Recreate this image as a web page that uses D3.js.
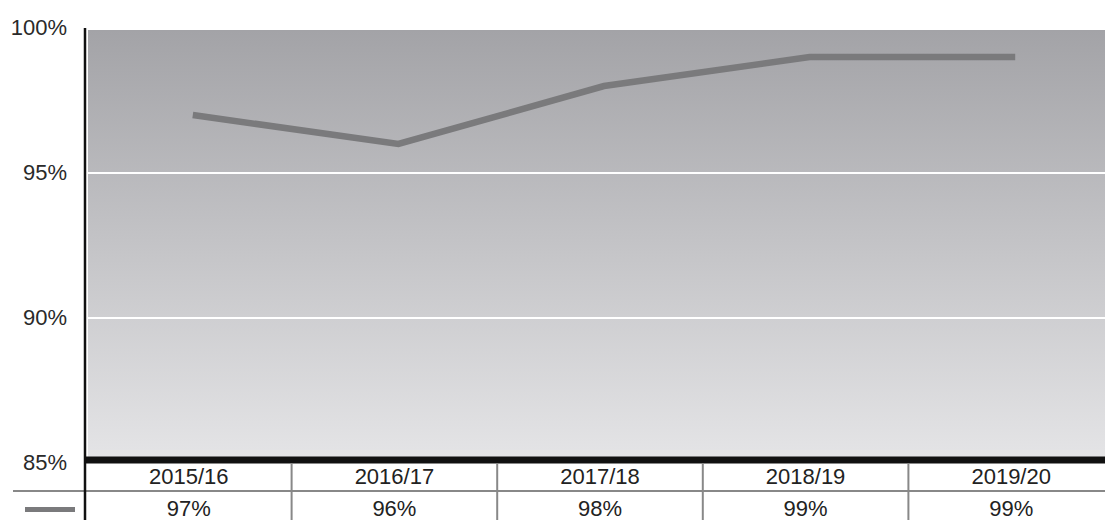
<!DOCTYPE html>
<html>
<head>
<meta charset="utf-8">
<style>
body { margin: 0; background: #fff; }
svg { font-family: "Liberation Sans", Arial, sans-serif; }
.axis text { font-size: 22px; fill: #2a2a2a; }
.cell text { font-size: 22px; fill: #222; }
.grid line { stroke: #fff; stroke-width: 2; }
.line { fill: none; stroke: #7a7a7c; stroke-width: 6.5; }
</style>
</head>
<body>
<svg width="1105" height="520"></svg>
<script src="https://cdn.jsdelivr.net/npm/d3@7"></script>
<script>
var years = ["2015/16", "2016/17", "2017/18", "2018/19", "2019/20"];
var values = [97, 96, 98, 99, 99];
var yTicks = [85, 90, 95, 100];

var svg = d3.select("svg");
var plotLeft = 86, plotRight = 1114, plotTop = 28, plotBottom = 463, svgW = 1105;

var x = d3.scaleBand().domain(years).range([plotLeft, plotRight]).padding(0);
var y = d3.scaleLinear().domain([85, 100]).range([plotBottom, plotTop]);

var defs = svg.append("defs");
var grad = defs.append("linearGradient")
  .attr("id", "bg").attr("x1", "0%").attr("x2", "0%").attr("y1", "0%").attr("y2", "100%");
grad.append("stop").attr("offset", "0%").attr("stop-color", "#a3a3a7");
grad.append("stop").attr("offset", "100%").attr("stop-color", "#e5e5e7");

// plot background
svg.append("rect")
  .attr("x", plotLeft + 2).attr("y", y(100) + 2)
  .attr("width", svgW - plotLeft - 2).attr("height", y(85) - y(100) - 2)
  .attr("fill", "url(#bg)");

// gridlines
svg.append("g").attr("class", "grid")
  .selectAll("line").data([90, 95]).enter().append("line")
  .attr("x1", plotLeft + 2).attr("x2", svgW)
  .attr("y1", function(d) { return y(d); }).attr("y2", function(d) { return y(d); });

// y labels
svg.append("g").attr("class", "axis")
  .selectAll("text").data(yTicks).enter().append("text")
  .attr("x", 67).attr("y", function(d) { return y(d); })
  .attr("dy", "0.3em")
  .attr("text-anchor", "end")
  .text(function(d) { return d + "%"; });

// line
var line = d3.line()
  .x(function(d, i) { return x(years[i]) + x.bandwidth() / 2 + 4; })
  .y(function(d) { return y(d); });

svg.append("path").datum(values).attr("class", "line").attr("d", line);

// bottom thick bar
svg.append("line")
  .attr("x1", plotLeft).attr("x2", svgW)
  .attr("y1", y(85) - 3).attr("y2", y(85) - 3)
  .attr("stroke", "#111").attr("stroke-width", 7);

// table
var row1 = 476, row2 = 508, sep = 491;
svg.append("line")
  .attr("x1", 13).attr("x2", svgW)
  .attr("y1", sep).attr("y2", sep)
  .attr("stroke", "#888").attr("stroke-width", 2);

svg.append("g").selectAll("line").data(years.slice(1)).enter().append("line")
  .attr("x1", function(d) { return x(d); }).attr("x2", function(d) { return x(d); })
  .attr("y1", y(85)).attr("y2", 520)
  .attr("stroke", "#888").attr("stroke-width", 2);

var cells = svg.append("g").attr("class", "cell");
cells.selectAll(".yr").data(years).enter().append("text")
  .attr("class", "yr")
  .attr("x", function(d) { return x(d) + x.bandwidth() / 2; })
  .attr("y", row1).attr("dy", "0.35em")
  .attr("text-anchor", "middle")
  .text(function(d) { return d; });
cells.selectAll(".val").data(values).enter().append("text")
  .attr("class", "val")
  .attr("x", function(d, i) { return x(years[i]) + x.bandwidth() / 2; })
  .attr("y", row2).attr("dy", "0.35em")
  .attr("text-anchor", "middle")
  .text(function(d) { return d + "%"; });

// legend swatch
svg.append("rect")
  .attr("x", 25).attr("y", 507).attr("width", 50).attr("height", 5)
  .attr("fill", "#7a7a7c");

// left axis line
svg.append("line")
  .attr("x1", plotLeft - 1).attr("x2", plotLeft - 1)
  .attr("y1", y(100)).attr("y2", 520)
  .attr("stroke", "#111").attr("stroke-width", 2.5);
</script>
</body>
</html>
